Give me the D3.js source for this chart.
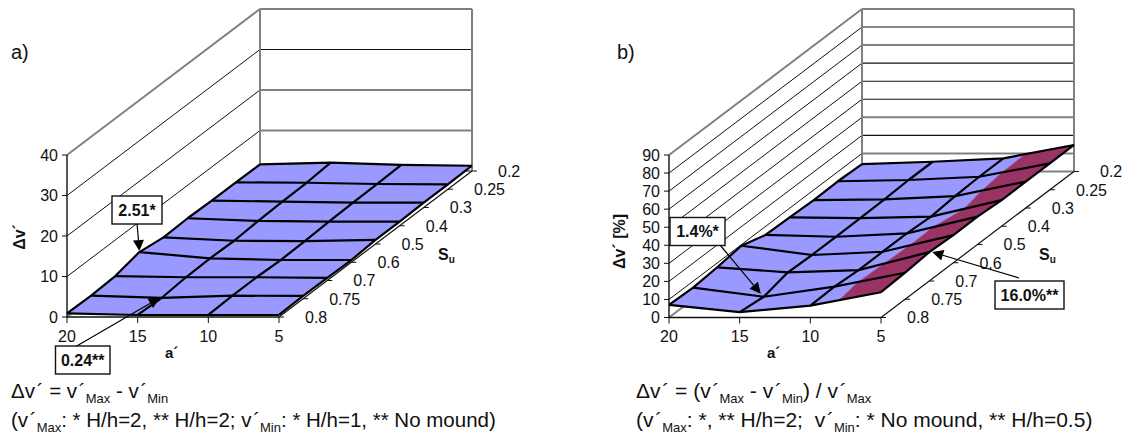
<!DOCTYPE html>
<html><head><meta charset="utf-8">
<style>
html,body{margin:0;padding:0;background:#fff}
svg{display:block}
text{font-family:"Liberation Sans",Arial,sans-serif;fill:#111;white-space:pre}
</style>
<script src="https://cdn.jsdelivr.net/npm/d3@7"></script>
</head><body>
<svg id="c" width="1128" height="436"></svg>
<script>
const aCats = [20, 15, 10, 5];
const suCats = [0.8, 0.75, 0.7, 0.6, 0.5, 0.4, 0.3, 0.25, 0.2];

// rows follow suCats, columns follow aCats
const dvA = [
  [0.9, 0.5, 0.5, 0.5],
  [0.75, 0.24, 0.75, 0.7],
  [1.1, 0.8, 0.8, 0.65],
  [2.51, 0.97, 0.55, 0.55],
  [1.65, 0.8, 0.7, 1.0],
  [1.85, 1.2, 1.0, 1.0],
  [1.7, 1.45, 1.2, 1.2],
  [1.7, 1.6, 1.3, 1.2],
  [1.65, 2.05, 1.5, 1.3]
];
const dvB = [
  [7.0, 3.0, 6.6, 14.0],
  [6.4, 1.4, 7.0, 14.7],
  [7.6, 4.8, 6.0, 16.0],
  [9.4, 4.3, 6.1, 15.3],
  [5.3, 4.3, 6.2, 15.4],
  [4.9, 4.5, 5.3, 14.5],
  [4.4, 4.8, 6.6, 14.6],
  [4.7, 5.4, 7.2, 14.6],
  [4.1, 5.4, 7.3, 14.7]
];
const ticksA = [0, 10, 20, 30, 40];
const ticksB = [0, 10, 20, 30, 40, 50, 60, 70, 80, 90];
const thinWallA = [30];
const thinWallB = [20, 40, 50, 60, 80];
const BLUE = "#9999ff", PURPLE = "#993366", GRAY = "#808080";
const BAND = 9.6;

const svg = d3.select("#c");

function panel(o) {
  const g = svg.append("g");
  const xS = d3.scalePoint().domain(aCats).range([o.x0, o.x0 + o.w]);
  const zxS = d3.scalePoint().domain(suCats).range([0, o.dx]);
  const zyS = d3.scalePoint().domain(suCats).range([0, o.dy]);
  const yS = d3.scaleLinear().domain([0, o.max]).range([0, o.h]);
  const px = (a, s) => xS(a) + zxS(s);
  const py = (s, v) => o.y0 - zyS(s) - yS(v);
  const back = suCats[suCats.length - 1], front = suCats[0];
  const aL = aCats[0], aR = aCats[aCats.length - 1];
  const line = (x1, y1, x2, y2, c, w) => g.append("line").attr("x1", x1).attr("y1", y1).attr("x2", x2).attr("y2", y2)
    .attr("stroke", c).attr("stroke-width", w);

  // walls
  o.ticks.forEach(t => {
    const top = t === o.max, base = t === 0;
    const thin = o.thin.includes(t);
    line(px(aL, front), py(front, t), px(aL, back), py(back, t), (top || base) ? GRAY : "#111", (top || base) ? 2 : 1);
    line(px(aL, back), py(back, t), px(aR, back), py(back, t), (top || base || !thin) ? GRAY : "#111", (top || base || !thin) ? 2 : 1.1);
  });
  line(px(aL, back), py(back, 0), px(aL, back), py(back, o.max), GRAY, 2);
  line(px(aR, back), py(back, 0), px(aR, back), py(back, o.max), GRAY, 2);

  // floor edge and axes
  line(px(aR, front), py(front, 0), px(aR, back), py(back, 0), "#111", 1.2);
  line(px(aL, front), py(front, 0), px(aR, front), py(front, 0), "#111", 1.4);
  line(px(aL, front), py(front, 0), px(aL, front), py(front, o.max), "#111", 1.4);
  o.ticks.forEach(t => {
    line(px(aL, front) - 5, py(front, t), px(aL, front), py(front, t), "#111", 1);
    g.append("text").attr("x", px(aL, front) - 9).attr("y", py(front, t)).attr("dy", "0.36em")
      .attr("text-anchor", "end").attr("font-size", 16).text(t);
  });
  aCats.forEach(a => {
    line(xS(a), py(front, 0), xS(a), py(front, 0) + 6, "#111", 1);
    g.append("text").attr("x", xS(a)).attr("y", 342).attr("text-anchor", "middle").attr("font-size", 16).text(a);
  });
  suCats.forEach(s => {
    line(px(aR, s), py(s, 0), px(aR, s) + 5, py(s, 0), "#111", 1);
    g.append("text").attr("x", px(aR, s) + 26).attr("y", py(s, 0)).attr("dy", "0.36em").attr("font-size", 16).text(s);
  });

  // surface
  const pt = (i, j) => {
    const a = aCats[i], s = suCats[j], v = o.data[j][i];
    return { x: px(a, s), y: py(s, v), v };
  };
  const lerp = (p, q, t) => ({ x: p.x + (q.x - p.x) * t, y: p.y + (q.y - p.y) * t, v: p.v + (q.v - p.v) * t });
  function clip(poly, keep) {
    const out = [];
    poly.forEach((p, k) => {
      const q = poly[(k + 1) % poly.length];
      const pi = keep(p.v), qi = keep(q.v);
      if (pi) out.push(p);
      if (pi !== qi) out.push(lerp(p, q, (BAND - p.v) / (q.v - p.v)));
    });
    return out;
  }
  const path = d3.line().x(d => d.x).y(d => d.y);
  const jBack = suCats.length - 2, iLast = aCats.length - 2;
  for (let j = jBack; j >= 0; j--) {
    for (let i = 0; i <= iLast; i++) {
      const quad = [pt(i, j), pt(i + 1, j), pt(i + 1, j + 1), pt(i, j + 1)];
      const lo = clip(quad, v => v < BAND), hi = clip(quad, v => v >= BAND);
      if (lo.length) g.append("path").attr("d", path(lo) + "Z").attr("fill", BLUE).attr("stroke", BLUE).attr("stroke-width", 0.5);
      if (hi.length) g.append("path").attr("d", path(hi) + "Z").attr("fill", PURPLE).attr("stroke", PURPLE).attr("stroke-width", 0.5);
    }
  }
  suCats.forEach((s, j) => {
    g.append("path").attr("fill", "none").attr("stroke", "#000").attr("stroke-width", 2.2).attr("stroke-linejoin", "round")
      .attr("d", path(aCats.map((a, i) => pt(i, j))));
  });
  aCats.forEach((a, i) => {
    g.append("path").attr("fill", "none").attr("stroke", "#000").attr("stroke-width", 2.2).attr("stroke-linejoin", "round")
      .attr("d", path(suCats.map((s, j) => pt(i, j))));
  });

  // axis titles
  const su = g.append("text").attr("x", o.suX).attr("y", 260).attr("font-weight", "bold").attr("font-size", 16);
  su.append("tspan").text("S");
  su.append("tspan").attr("font-size", 10).attr("dy", 3).text("u");
  g.append("text").attr("x", o.aX).attr("y", 358).attr("font-weight", "bold").attr("font-size", 15).text("a´");
  g.append("text").attr("transform", `translate(${o.yTitleX},${o.yTitleY}) rotate(-90)`).attr("text-anchor", "middle")
    .attr("font-weight", "bold").attr("font-size", 16).text(o.yTitle);

  // panel letter
  g.append("text").attr("x", o.letterX).attr("y", 59).attr("font-size", 20).text(o.letter);

  // annotations
  o.notes.forEach(n => {
    const tip = { x: px(aCats[n.i], suCats[n.j]) + n.tx, y: py(suCats[n.j], o.data[n.j][n.i]) + n.ty };
    const ang = Math.atan2(tip.y - n.sy, tip.x - n.sx);
    const hl = 11, hw = 5.5;
    const bx = tip.x - hl * Math.cos(ang), by = tip.y - hl * Math.sin(ang);
    line(n.sx, n.sy, bx, by, "#000", 1.2);
    g.append("path").attr("fill", "#000").attr("d",
      `M${tip.x},${tip.y}L${bx - hw * Math.sin(ang)},${by + hw * Math.cos(ang)}L${bx + hw * Math.sin(ang)},${by - hw * Math.cos(ang)}Z`);
    g.append("rect").attr("x", n.bx).attr("y", n.by).attr("width", n.bw).attr("height", 28)
      .attr("fill", "#fff").attr("stroke", "#111").attr("stroke-width", 1.4);
    g.append("text").attr("x", n.bx + n.bw / 2).attr("y", n.by + 14).attr("dy", "0.36em").attr("text-anchor", "middle")
      .attr("font-weight", "bold").attr("font-size", 16).text(n.text);
  });

  // captions
  o.captions.forEach((parts, k) => {
    const t = g.append("text").attr("x", o.capX).attr("y", 398 + k * 28.5).attr("font-size", o.capSize);
    let wasSub = false;
    parts.forEach(p => {
      const s = t.append("tspan").text(p[0]);
      if (p[1]) s.attr("font-size", 13).attr("dy", wasSub ? 0 : 5);
      else if (wasSub) s.attr("dy", -5);
      wasSub = !!p[1];
    });
  });
}

panel({
  x0: 67, w: 212, y0: 317, h: 162, dx: 193, dy: 146, max: 40, data: dvA, ticks: ticksA, thin: thinWallA,
  suX: 438, aX: 165, yTitle: "Δv´", yTitleX: 25, yTitleY: 237, letter: "a)", letterX: 11,
  notes: [
    { text: "2.51*", i: 0, j: 3, tx: 0, ty: -1, sx: 137, sy: 223, bx: 112, by: 196, bw: 50 },
    { text: "0.24**", i: 1, j: 1, tx: -2, ty: 0, sx: 75, sy: 347, bx: 55.5, by: 346, bw: 54.5 }
  ],
  capX: 11, capSize: 20.5,
  captions: [
    [["Δv\u200a´ = v\u200a´"], ["Max", 1], [" - v\u200a´"], ["Min", 1]],
    [["(v\u200a´"], ["Max", 1], [": * H/h=2, ** H/h=2; v\u200a´"], ["Min", 1], [": * H/h=1, ** No mound)"]]
  ]
});

panel({
  x0: 669, w: 212, y0: 317.5, h: 162.5, dx: 193, dy: 146, max: 90, data: dvB, ticks: ticksB, thin: thinWallB,
  suX: 1039, aX: 767, yTitle: "Δv´ [%]", yTitleX: 625, yTitleY: 241.5, letter: "b)", letterX: 617,
  notes: [
    { text: "1.4%*", i: 1, j: 1, tx: -3, ty: -3, sx: 720, sy: 245, bx: 670, by: 217.5, bw: 55 },
    { text: "16.0%**", i: 3, j: 2, tx: 3, ty: 0, sx: 1019, sy: 278, bx: 995, by: 281, bw: 69 }
  ],
  capX: 636, capSize: 21,
  captions: [
    [["Δv\u200a´ = (v\u200a´"], ["Max", 1], [" - v\u200a´"], ["Min", 1], [") / v\u200a´"], ["Max", 1]],
    [["(v\u200a´"], ["Max", 1], [": *, ** H/h=2;  v\u200a´"], ["Min", 1], [": * No mound, ** H/h=0.5)"]]
  ]
});
</script>
</body></html>
